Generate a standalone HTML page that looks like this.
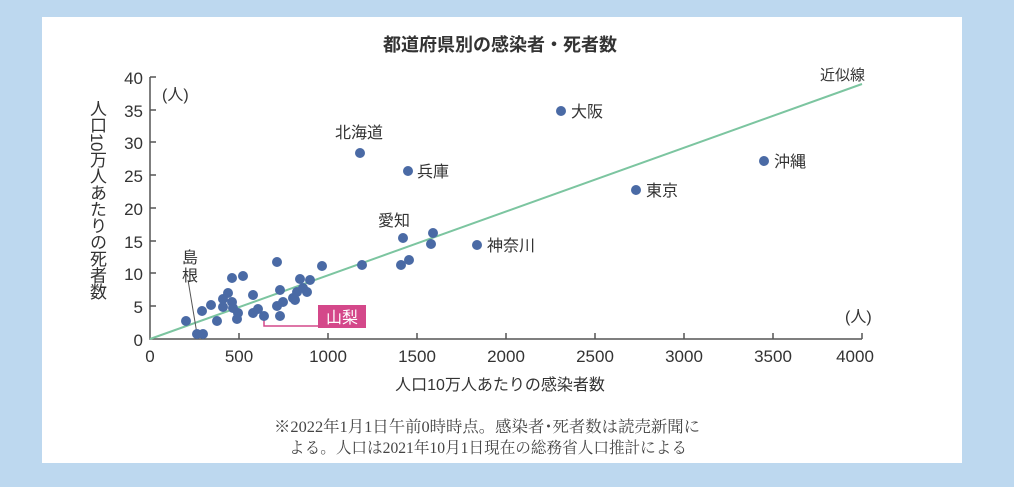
<!DOCTYPE html>
<html><head><meta charset="utf-8"><style>
body{margin:0;background:#bdd8ef;width:1014px;height:487px;overflow:hidden;font-family:"Liberation Sans","Noto Sans CJK JP",sans-serif}
#p{position:absolute;left:42px;top:17px;width:920px;height:446px;background:#fff}
svg{position:absolute;left:0;top:0}
.yl{position:absolute;left:86px;top:100px;writing-mode:vertical-rl;font-size:17px;color:#333;line-height:20px;letter-spacing:-0.5px}
</style></head><body>
<div id="p"></div>
<svg width="1014" height="487" font-family="Liberation Sans, Noto Sans CJK JP, sans-serif" fill="#333">
<text x="500" y="51" font-size="18" font-weight="bold" text-anchor="middle">都道府県別の感染者・死者数</text>
<g stroke="#555" stroke-width="1.5" fill="none">
<path d="M150 77 V339 H862"/>
<path d="M150 77h6M150 110h6M150 142h6M150 175h6M150 208h6M150 241h6M150 273h6M150 306h6"/>
<path d="M239 339v-6M328 339v-6M417 339v-6M506 339v-6M595 339v-6M684 339v-6M773 339v-6M862 339v-6"/>
</g>
<g font-size="17" text-anchor="end">
<text x="143" y="84">40</text><text x="143" y="117">35</text><text x="143" y="149">30</text><text x="143" y="182">25</text><text x="143" y="215">20</text><text x="143" y="248">15</text><text x="143" y="280">10</text><text x="143" y="313">5</text><text x="143" y="346">0</text>
</g>
<g font-size="17" text-anchor="middle">
<text x="150" y="362">0</text><text x="239" y="362">500</text><text x="328" y="362">1000</text><text x="417" y="362">1500</text><text x="506" y="362">2000</text><text x="595" y="362">2500</text><text x="684" y="362">3000</text><text x="773" y="362">3500</text><text x="855" y="362">4000</text>
</g>
<text x="162" y="100" font-size="16">(人)</text>
<text x="845" y="322" font-size="16">(人)</text>
<text x="500" y="390" font-size="16" text-anchor="middle">人口10万人あたりの感染者数</text>
<text x="820" y="80" font-size="15">近似線</text>
<line x1="150" y1="339" x2="862" y2="84" stroke="#7cc5a0" stroke-width="2"/>
<path d="M188 280 L197 334" stroke="#555" fill="none"/>
<text x="182" y="263" font-size="16">島</text><text x="182" y="281" font-size="16">根</text>
<path d="M264 318 v8 h56" stroke="#d4488a" stroke-width="1.5" fill="none"/>
<rect x="318" y="305" width="48" height="23" fill="#d4488a"/>
<text x="342" y="323" font-size="16" fill="#fff" text-anchor="middle">山梨</text>
<g fill="#4a6aa5">
<circle cx="186" cy="321" r="5"/><circle cx="197" cy="334" r="5"/><circle cx="203" cy="334" r="5"/><circle cx="202" cy="311" r="5"/><circle cx="211" cy="305" r="5"/><circle cx="217" cy="321" r="5"/><circle cx="223" cy="299" r="5"/><circle cx="228" cy="293" r="5"/><circle cx="232" cy="302" r="5"/><circle cx="223" cy="307" r="5"/><circle cx="233" cy="308" r="5"/><circle cx="238" cy="313" r="5"/><circle cx="237" cy="319" r="5"/><circle cx="232" cy="278" r="5"/><circle cx="243" cy="276" r="5"/><circle cx="253" cy="295" r="5"/><circle cx="253" cy="313" r="5"/><circle cx="258" cy="309" r="5"/><circle cx="264" cy="316" r="5"/><circle cx="277" cy="262" r="5"/><circle cx="280" cy="290" r="5"/><circle cx="277" cy="306" r="5"/><circle cx="280" cy="316" r="5"/><circle cx="283" cy="302" r="5"/><circle cx="293" cy="298" r="5"/><circle cx="297" cy="292" r="5"/><circle cx="300" cy="279" r="5"/><circle cx="303" cy="288" r="5"/><circle cx="307" cy="292" r="5"/><circle cx="310" cy="280" r="5"/><circle cx="295" cy="300" r="5"/><circle cx="322" cy="266" r="5"/><circle cx="362" cy="265" r="5"/>
<circle cx="360" cy="153" r="5"/><circle cx="408" cy="171" r="5"/><circle cx="561" cy="111" r="5"/><circle cx="764" cy="161" r="5"/><circle cx="636" cy="190" r="5"/><circle cx="403" cy="238" r="5"/><circle cx="477" cy="245" r="5"/><circle cx="409" cy="260" r="5"/><circle cx="401" cy="265" r="5"/><circle cx="431" cy="244" r="5"/><circle cx="433" cy="233" r="5"/>
</g>
<g font-size="16">
<text x="335" y="138">北海道</text><text x="417" y="177">兵庫</text><text x="571" y="117">大阪</text><text x="774" y="167">沖縄</text><text x="646" y="196">東京</text><text x="378" y="226">愛知</text><text x="487" y="251">神奈川</text>
</g>
<g font-size="16" font-family="Liberation Serif, Noto Serif CJK SC, serif" fill="#444">
<text x="274" y="432" textLength="426" lengthAdjust="spacingAndGlyphs">※2022年1月1日午前0時時点。感染者･死者数は読売新聞に</text>
<text x="289" y="453" textLength="398" lengthAdjust="spacingAndGlyphs">よる。人口は2021年10月1日現在の総務省人口推計による</text>
</g>
</svg>
<div class="yl">人口10万人あたりの死者数</div>
</body></html>
